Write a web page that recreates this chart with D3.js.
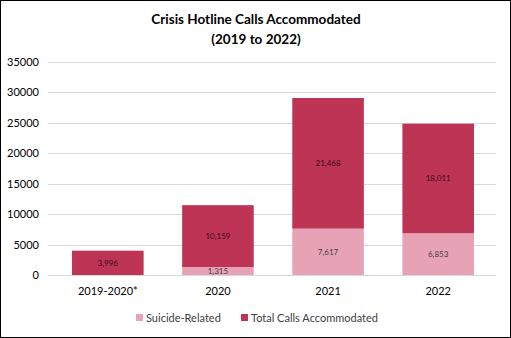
<!DOCTYPE html>
<html>
<head>
<meta charset="utf-8">
<script src="https://cdn.jsdelivr.net/npm/d3@7"></script>
<style>
  body { margin: 0; background: #fff; }
  svg { display: block; font-family: Lato, "Open Sans", sans-serif; }
</style>
</head>
<body>
<svg id="chart" width="511" height="338"></svg>
<script>
const width = 511;
const height = 338;

const categories = ["2019-2020*", "2020", "2021", "2022"];
const suicideRelated = [0, 1315, 7617, 6853];
const totalCalls = [3996, 10159, 21468, 18011];
const seriesNames = ["Suicide-Related", "Total Calls Accommodated"];
const yTicks = [0, 5000, 10000, 15000, 20000, 25000, 30000, 35000];

const colors = ["#e8a2b5", "#be3455"];

const svg = d3.select("#chart");

// outer border
svg.append("rect")
  .attr("x", 0.5).attr("y", 0.5)
  .attr("width", width - 1).attr("height", height - 1)
  .attr("fill", "#fff").attr("stroke", "#000");

// title
const title = svg.append("text")
  .attr("text-anchor", "middle")
  .attr("font-weight", "bold")
  .attr("font-size", 13.5)
  .attr("fill", "#000");
title.append("tspan").attr("x", 256).attr("y", 24).text("Crisis Hotline Calls Accommodated");
title.append("tspan").attr("x", 256).attr("y", 44).text("(2019 to 2022)");

const xScale = d3.scaleBand()
  .domain(categories)
  .range([50, 496])
  .paddingInner(0.35)
  .paddingOuter(0.2);

const yScale = d3.scaleLinear()
  .domain([0, 35000])
  .range([275, 62]);

// gridlines
svg.append("g")
  .selectAll("line")
  .data(yTicks)
  .join("line")
  .attr("x1", 48).attr("x2", 496)
  .attr("y1", d => Math.round(yScale(d)) + 0.5)
  .attr("y2", d => Math.round(yScale(d)) + 0.5)
  .attr("stroke", "#d9d9d9");

// y axis labels
const yAxis = d3.axisLeft(yScale).tickValues(yTicks).tickFormat(d3.format("d"))
  .tickSize(0).tickPadding(0);
svg.append("g")
  .attr("transform", "translate(39,0)")
  .call(yAxis)
  .call(g => g.select(".domain").remove())
  .call(g => g.selectAll("text").attr("font-size", 11).attr("fill", "#000")
    .attr("font-family", "Lato, 'Open Sans', sans-serif"));

// x axis labels
const xAxis = d3.axisBottom(xScale).tickSize(0).tickPadding(0);
svg.append("g")
  .attr("transform", "translate(0,287)")
  .call(xAxis)
  .call(g => g.select(".domain").remove())
  .call(g => g.selectAll("text").attr("font-size", 11).attr("fill", "#000")
    .attr("font-family", "Lato, 'Open Sans', sans-serif"));

// stacked data
const rows = categories.map((c, i) => ({ cat: c, s0: suicideRelated[i], s1: totalCalls[i] }));
const stack = d3.stack().keys(["s0", "s1"]);
const layers = stack(rows);

const fmt = d3.format(",");

layers.forEach((layer, li) => {
  const g = svg.append("g");
  g.selectAll("rect")
    .data(layer.filter(d => d[1] > d[0]))
    .join("rect")
    .attr("x", d => xScale(d.data.cat))
    .attr("y", d => yScale(d[1]))
    .attr("width", xScale.bandwidth())
    .attr("height", d => yScale(d[0]) - yScale(d[1]))
    .attr("fill", colors[li]);

  g.selectAll("text")
    .data(layer.filter(d => d[1] > d[0]))
    .join("text")
    .attr("x", d => xScale(d.data.cat) + xScale.bandwidth() / 2)
    .attr("y", d => (yScale(d[0]) + yScale(d[1])) / 2 + 3)
    .attr("text-anchor", "middle")
    .attr("font-size", 8)
    .attr("fill", li === 0 ? "#404040" : "#3a0a15")
    .text(d => fmt(d[1] - d[0]));
});

// legend
const legendItems = [
  { name: seriesNames[0], x: 136, color: colors[0] },
  { name: seriesNames[1], x: 241, color: colors[1] }
];
const legend = svg.append("g");
legendItems.forEach(item => {
  legend.append("rect")
    .attr("x", item.x).attr("y", 314)
    .attr("width", 7).attr("height", 7)
    .attr("fill", item.color);
  legend.append("text")
    .attr("x", item.x + 10).attr("y", 322)
    .attr("font-size", 11)
    .attr("fill", "#404040")
    .text(item.name);
});
</script>
</body>
</html>
